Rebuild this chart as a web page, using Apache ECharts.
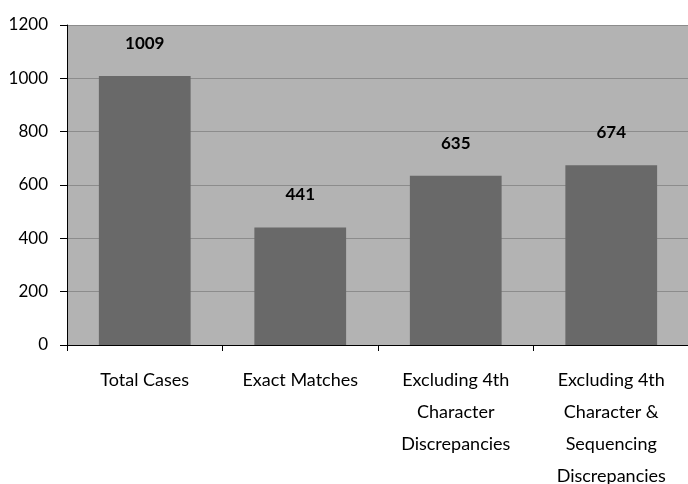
<!DOCTYPE html>
<html><head><meta charset="utf-8">
<script src="https://cdn.jsdelivr.net/npm/echarts@6/dist/echarts.min.js"></script>
<style>html,body{margin:0;padding:0;background:#fff}#c{width:688px;height:484px}</style>
</head><body><div id="c"></div>
<script>
var categories = ['Total Cases', 'Exact Matches', 'Excluding 4th\nCharacter\nDiscrepancies', 'Excluding 4th\nCharacter &\nSequencing\nDiscrepancies'];
var values = [1009, 441, 635, 674];
var yTicks = [0, 200, 400, 600, 800, 1000, 1200];
var FONT = 'Lato';
var chart = echarts.init(document.getElementById('c'));
chart.setOption({
  animation: false,
  grid: { left: 67, right: -1, top: 25, bottom: 139, outerBoundsMode: 'none', containLabel: false, backgroundColor: '#b3b3b3', show: true, borderWidth: 0 },
  xAxis: {
    type: 'category', data: categories,
    axisLine: { lineStyle: { color: '#000', width: 1 } },
    axisTick: { show: true, length: 6, lineStyle: { color: '#000' }, alignWithLabel: false },
    axisLabel: { color: '#000', fontFamily: FONT, fontSize: 18, lineHeight: 32, margin: 19, interval: 0 }
  },
  yAxis: {
    type: 'value', min: yTicks[0], max: yTicks[yTicks.length - 1], interval: 200,
    axisLine: { show: true, lineStyle: { color: '#000', width: 1 } },
    axisTick: { show: true, length: 7, inside: false, lineStyle: { color: '#000' } },
    axisLabel: { color: '#000', fontFamily: FONT, fontSize: 17, margin: 19, padding: [0, 0, 6, 0], formatter: function (v) { return String(v); } },
    splitLine: { lineStyle: { color: '#8c8c8c', width: 1 } }
  },
  series: [{
    type: 'bar', data: values, barWidth: '59%',
    itemStyle: { color: '#696969' },
    label: { show: true, position: 'top', distance: 24, color: '#000', fontFamily: FONT, fontWeight: 'bold', fontSize: 17 }
  }]
});
</script></body></html>
